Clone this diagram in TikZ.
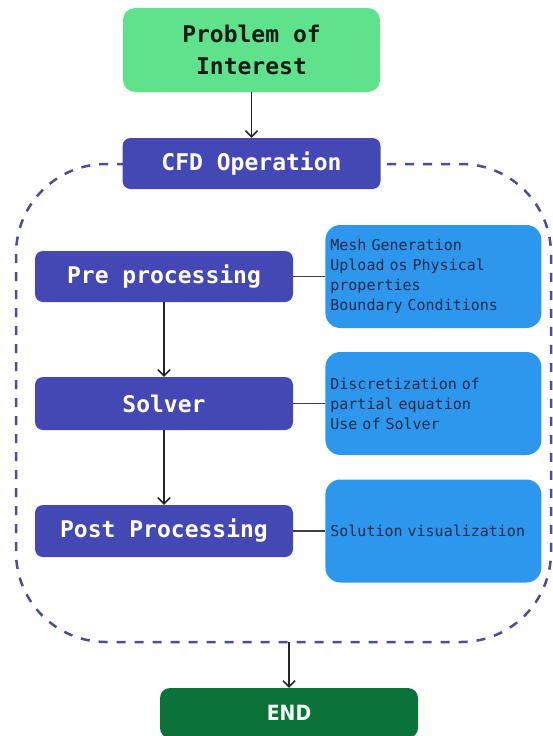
\documentclass[tikz,border=0pt]{standalone}
\usepackage{fontspec}
\setmonofont[WordSpace={1,0,0}]{DejaVu Sans Mono}
\newfontfamily\condfont{DejaVu Sans Condensed}
\usepackage{xcolor}
\usetikzlibrary{arrows.meta,positioning,calc}

\definecolor{startgreen}{HTML}{5EE38C}
\definecolor{stageblue}{HTML}{4348B5}
\definecolor{noteblue}{HTML}{2D97EE}
\definecolor{notetext}{HTML}{1B2A4A}
\definecolor{endgreen}{HTML}{0B7339}
\definecolor{frameblue}{HTML}{4A4C9E}

\tikzset{
  stagebox/.style={fill=stageblue, rounded corners=8pt, minimum width=258pt,
    minimum height=52pt, text=white, font=\ttfamily\bfseries\fontsize{23}{28}\selectfont},
  notebox/.style={fill=noteblue, rounded corners=15pt, minimum width=216pt,
    minimum height=103pt, text width=206pt, inner xsep=5pt, align=left,
    text=notetext, font=\ttfamily\fontsize{15}{20}\selectfont},
  flow/.style={-{Straight Barb[length=6pt,width=12pt]}, line width=1.5pt, black!85},
  link/.style={line width=1.5pt, black!75},
}

\begin{document}
\begin{tikzpicture}[x=1pt,y=-1pt]
  \useasboundingbox (0,0) rectangle (552,736);

  % CFD frame (dashed)
  \draw[frameblue, line width=2.5pt, dash pattern=on 9pt off 9pt, rounded corners=90pt]
    (16,164) rectangle (551,642);
  \coordinate (frameend) at (289,642);

  % Start
  \node[fill=startgreen, rounded corners=12pt, minimum width=257pt, minimum height=84pt,
    align=center, text=black!90, font=\ttfamily\bfseries\fontsize{23}{32}\selectfont]
    (problem) at (251.5,50) {Problem of\\Interest};
  \node[stagebox, minimum height=51pt] (cfd) at (251.5,163.5) {CFD Operation};

  % Stages
  \node[stagebox, minimum height=51pt] (pre) at (164,276.5) {Pre processing};
  \node[stagebox, minimum height=53pt] (solver) at (164,403.5) {Solver};
  \node[stagebox] (post) at (164,531) {Post Processing};

  % Notes
  \node[notebox, right=32pt of pre] (mesh)
    {Mesh Generation\\Upload os Physical\\properties\\Boundary Conditions};
  \node[notebox, right=32pt of solver] (discret)
    {Discretization of\\partial equation\\Use of Solver};
  \node[notebox, right=32pt of post] (visual) {Solution visualization};

  % End
  \node[fill=endgreen, rounded corners=10pt, minimum width=258pt, minimum height=50pt,
    text=green!5, font=\condfont\bfseries\fontsize{21}{24}\selectfont]
    (finish) at (289,713) {END};

  % Connectors
  \draw[flow] (problem) -- (cfd);
  \draw[flow] (pre) -- (solver);
  \draw[flow] (solver) -- (post);
  \draw[flow] (frameend) -- (finish);
  \draw[link] (pre) -- (mesh);
  \draw[link] (solver) -- (discret);
  \draw[link] (post) -- (visual);
\end{tikzpicture}
\end{document}
